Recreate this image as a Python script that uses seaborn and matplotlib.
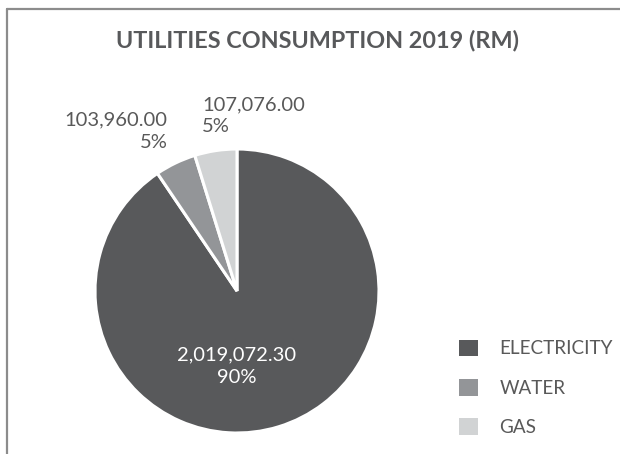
import matplotlib
matplotlib.use("Agg")
import matplotlib.pyplot as plt
import seaborn as sns
from matplotlib.patches import Patch

# data
categories = ["ELECTRICITY", "WATER", "GAS"]
amounts = [2019072.30, 103960.00, 107076.00]
pct_labels = ["90%", "5%", "5%"]  # as printed on the chart
colors = ["#58595b", "#939598", "#d1d3d4"]

sns.set_theme(style="white")
plt.rcParams["font.family"] = ["Lato", "DejaVu Sans"]

fig = plt.figure(figsize=(6.2, 4.54), dpi=100)

# frame around the chart area (only top/left visible in the crop)
fig.add_artist(plt.Line2D([6.5 / 620, 1.0], [1 - 8.5 / 454, 1 - 8.5 / 454],
                          color="#8c8c8c", lw=1.6, transform=fig.transFigure))
fig.add_artist(plt.Line2D([6.5 / 620, 6.5 / 620], [0.0, 1 - 8.5 / 454],
                          color="#8c8c8c", lw=1.6, transform=fig.transFigure))

cx, cy, r = 237, 291, 142
ax = fig.add_axes([(cx - r) / 620, (454 - cy - r) / 454, 2 * r / 620, 2 * r / 454])
wedges, _ = ax.pie(amounts, colors=colors, startangle=90, counterclock=False,
                   wedgeprops=dict(edgecolor="white", linewidth=2.2))
ax.set_xlim(-1, 1)
ax.set_ylim(-1, 1)
ax.axis("off")

labels = [f"{v:,.2f}\n{p}" for v, p in zip(amounts, pct_labels)]
# label placements (data units of the pie axes)
label_pos = [(0.0, -0.53, "center", "white"),
             (-0.49, 1.125, "right", "#595959"),
             (-0.245, 1.235, "left", "#595959")]
for lab, (x, y, ha, c) in zip(labels, label_pos):
    ax.text(x, y, lab, ha=ha, va="center", fontsize=14.5, color=c,
            linespacing=1.35, multialignment=ha, clip_on=False)

fig.text(318 / 620, 1 - 40.5 / 454, "UTILITIES CONSUMPTION 2019 (RM)",
         ha="center", va="center", fontsize=16.8, fontweight="bold", color="#58595b")

handles = [Patch(facecolor=c, edgecolor="none") for c in colors]
leg = fig.legend(handles, categories, loc="upper left",
                 bbox_to_anchor=(459 / 620, 1 - 339.5 / 454), frameon=False,
                 fontsize=13.6, handlelength=1.0, handleheight=1.0,
                 handletextpad=1.15, labelspacing=1.13, borderpad=0.0,
                 borderaxespad=0.0)
for t in leg.get_texts():
    t.set_color("#595959")

fig.savefig("out.png", dpi=100)
